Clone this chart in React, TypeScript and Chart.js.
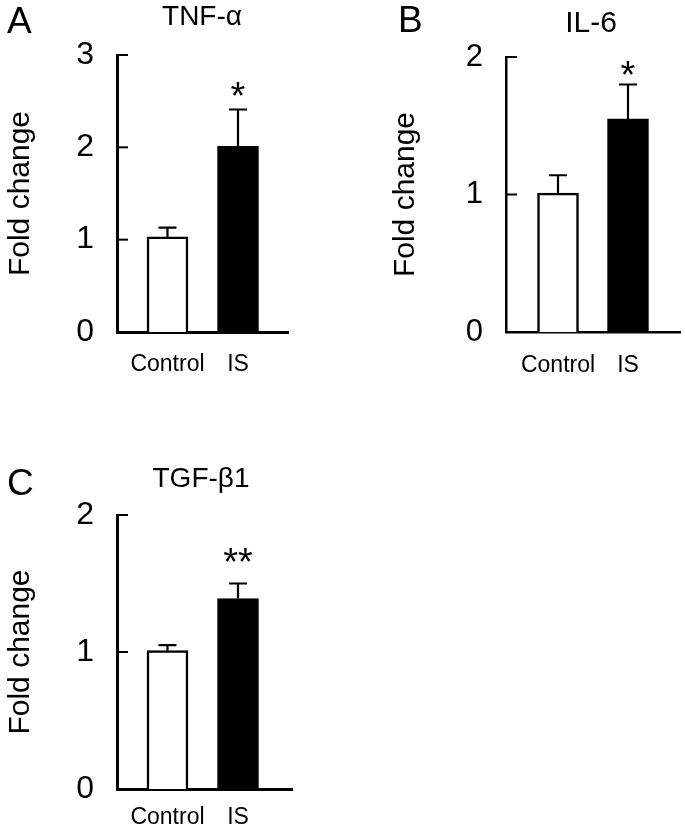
import React, { useEffect, useRef } from "react";
import { Chart, registerables } from "chart.js";

Chart.register(...registerables);

const FONT = "'Liberation Sans', Arial, Helvetica, sans-serif";

// ---- data ----
const categories = ["Control", "IS"];
const categoryPositions = [1, 2];

const tnfMeans = [1.03, 2.01];
const tnfErrors = [0.1, 0.4];
const tnfMarks = ["", "*"];
const tnfTicks = [0, 1, 2, 3];

const il6Means = [1.01, 1.55];
const il6Errors = [0.13, 0.25];
const il6Marks = ["", "*"];
const il6Ticks = [0, 1, 2];

const tgfMeans = [1.01, 1.39];
const tgfErrors = [0.04, 0.11];
const tgfMarks = ["", "**"];
const tgfTicks = [0, 1, 2];

const panelLetters = ["A", "B", "C"];
const panelTitles = ["TNF-α", "IL-6", "TGF-β1"];
const yAxisTitle = "Fold change";

// ---- layout / style ----
type Panel = {
  left: number; top: number; width: number; height: number;
  areaLeft: number; areaRight: number; areaTop: number; areaBottom: number;
  xMin: number; xMax: number;
  means: number[]; errors: number[]; marks: string[]; ticks: number[];
  letter: string; title: string;
  letterX: number; letterBase: number; letterSize: number;
  titleX: number; titleBase: number; titleSize: number;
  starGap: number; tickSize: number; xLabelPad: number; axisWidth: number;
};

const panels: Panel[] = [
  {
    left: 0, top: 0, width: 300, height: 400,
    areaLeft: 117, areaRight: 288, areaTop: 55, areaBottom: 332,
    xMin: 0.284, xMax: 2.709,
    means: tnfMeans, errors: tnfErrors, marks: tnfMarks, ticks: tnfTicks,
    letter: panelLetters[0], title: panelTitles[0],
    letterX: 7, letterBase: 33, letterSize: 37,
    titleX: 202, titleBase: 25, titleSize: 28,
    starGap: 22, tickSize: 32, xLabelPad: 11, axisWidth: 3,
  },
  {
    left: 385, top: 0, width: 300, height: 400,
    areaLeft: 121, areaRight: 295, areaTop: 57, areaBottom: 332,
    xMin: 0.257, xMax: 2.743,
    means: il6Means, errors: il6Errors, marks: il6Marks, ticks: il6Ticks,
    letter: panelLetters[1], title: panelTitles[1],
    letterX: 13, letterBase: 32, letterSize: 37,
    titleX: 206, titleBase: 32, titleSize: 30,
    starGap: 18, tickSize: 31, xLabelPad: 12, axisWidth: 2.5,
  },
  {
    left: 0, top: 420, width: 300, height: 410,
    areaLeft: 117, areaRight: 292, areaTop: 95, areaBottom: 369,
    xMin: 0.284, xMax: 2.766,
    means: tgfMeans, errors: tgfErrors, marks: tgfMarks, ticks: tgfTicks,
    letter: panelLetters[2], title: panelTitles[2],
    letterX: 7, letterBase: 75, letterSize: 37,
    titleX: 201, titleBase: 67, titleSize: 28,
    starGap: 30, tickSize: 32, xLabelPad: 7, axisWidth: 3,
  },
];

const annotate = {
  id: "annotate",
  afterDatasetsDraw(chart: any, _args: any, opts: any) {
    const p: Panel = opts.panel;
    if (!p) return;
    const { ctx, chartArea } = chart;
    const ys = chart.scales.y;
    const meta = chart.getDatasetMeta(0);
    ctx.save();
    ctx.strokeStyle = "#000";
    ctx.fillStyle = "#000";
    // inward tick marks
    ctx.lineWidth = 2;
    ys.ticks.forEach((t: any) => {
      const py = ys.getPixelForValue(t.value);
      ctx.beginPath();
      ctx.moveTo(chartArea.left, py);
      ctx.lineTo(chartArea.left + 11, py);
      ctx.stroke();
    });
    // error bars + significance marks
    p.means.forEach((m, i) => {
      const el = meta.data[i];
      if (!el) return;
      const px = el.x;
      const py0 = ys.getPixelForValue(m);
      const py1 = ys.getPixelForValue(m + p.errors[i]);
      ctx.lineWidth = 2.2;
      ctx.beginPath();
      ctx.moveTo(px, py0);
      ctx.lineTo(px, py1);
      ctx.moveTo(px - 9, py1);
      ctx.lineTo(px + 9, py1);
      ctx.stroke();
      const mark = p.marks[i];
      if (mark) {
        const s = 38;
        ctx.font = `${s}px ${FONT}`;
        ctx.textAlign = "center";
        ctx.textBaseline = "alphabetic";
        ctx.fillText(mark, px, py1 - p.starGap + 0.57 * s);
      }
    });
    // panel letter
    ctx.textBaseline = "alphabetic";
    ctx.textAlign = "left";
    ctx.font = `${p.letterSize}px ${FONT}`;
    ctx.fillText(p.letter, p.letterX, p.letterBase);
    // title
    ctx.textAlign = "center";
    ctx.font = `${p.titleSize}px ${FONT}`;
    ctx.fillText(p.title, p.titleX, p.titleBase);
    ctx.restore();
  },
};

function PanelChart({ p }: { p: Panel }) {
  const ref = useRef<HTMLCanvasElement | null>(null);
  useEffect(() => {
    if (!ref.current) return;
    const chart = new Chart(ref.current, {
      type: "bar",
      data: {
        datasets: [
          {
            data: categoryPositions.map((x, i) => ({ x, y: p.means[i] })),
            backgroundColor: ["#ffffff", "#000000"],
            borderColor: "#000000",
            borderWidth: 2.5,
            borderSkipped: "start",
            barThickness: 41,
          } as any,
        ],
      },
      options: {
        animation: false,
        responsive: false,
        events: [],
        layout: {
          padding: { left: 0, top: p.areaTop, right: p.width - p.areaRight, bottom: 0 },
        },
        plugins: {
          legend: { display: false },
          tooltip: { enabled: false },
          title: { display: false },
          annotate: { panel: p },
        } as any,
        scales: {
          x: {
            type: "linear",
            min: p.xMin,
            max: p.xMax,
            offset: false,
            afterBuildTicks: (s: any) => {
              s.ticks = categoryPositions.map((v) => ({ value: v }));
            },
            afterFit: (s: any) => {
              s.height = p.height - p.areaBottom;
            },
            grid: { display: false },
            border: { display: true, color: "#000", width: p.axisWidth },
            ticks: {
              color: "#000",
              autoSkip: false,
              maxRotation: 0,
              padding: p.xLabelPad,
              font: { family: FONT, size: 23 },
              callback: (v: any) => {
                const idx = categoryPositions.indexOf(Number(v));
                return idx >= 0 ? categories[idx] : "";
              },
            },
          },
          y: {
            type: "linear",
            min: p.ticks[0],
            max: p.ticks[p.ticks.length - 1],
            afterBuildTicks: (s: any) => {
              s.ticks = p.ticks.map((v) => ({ value: v }));
            },
            afterFit: (s: any) => {
              s.width = p.areaLeft;
            },
            grid: { display: false },
            border: { display: true, color: "#000", width: p.axisWidth },
            ticks: {
              color: "#000",
              padding: 15,
              font: { family: FONT, size: p.tickSize },
            },
            title: {
              display: true,
              text: yAxisTitle,
              color: "#000",
              font: { family: FONT, size: 30 },
              padding: { top: 3, bottom: 0 },
            },
          },
        } as any,
      },
      plugins: [annotate as any],
    });
    return () => chart.destroy();
  }, [p]);
  return (
    <canvas
      ref={ref}
      width={p.width}
      height={p.height}
      style={{ position: "absolute", left: p.left, top: p.top, width: p.width, height: p.height }}
    />
  );
}

export default function App() {
  return (
    <div style={{ position: "absolute", left: 0, top: 0, width: 685, height: 830, background: "#fff", overflow: "hidden" }}>
      {panels.map((p, i) => (
        <PanelChart key={i} p={p} />
      ))}
    </div>
  );
}
